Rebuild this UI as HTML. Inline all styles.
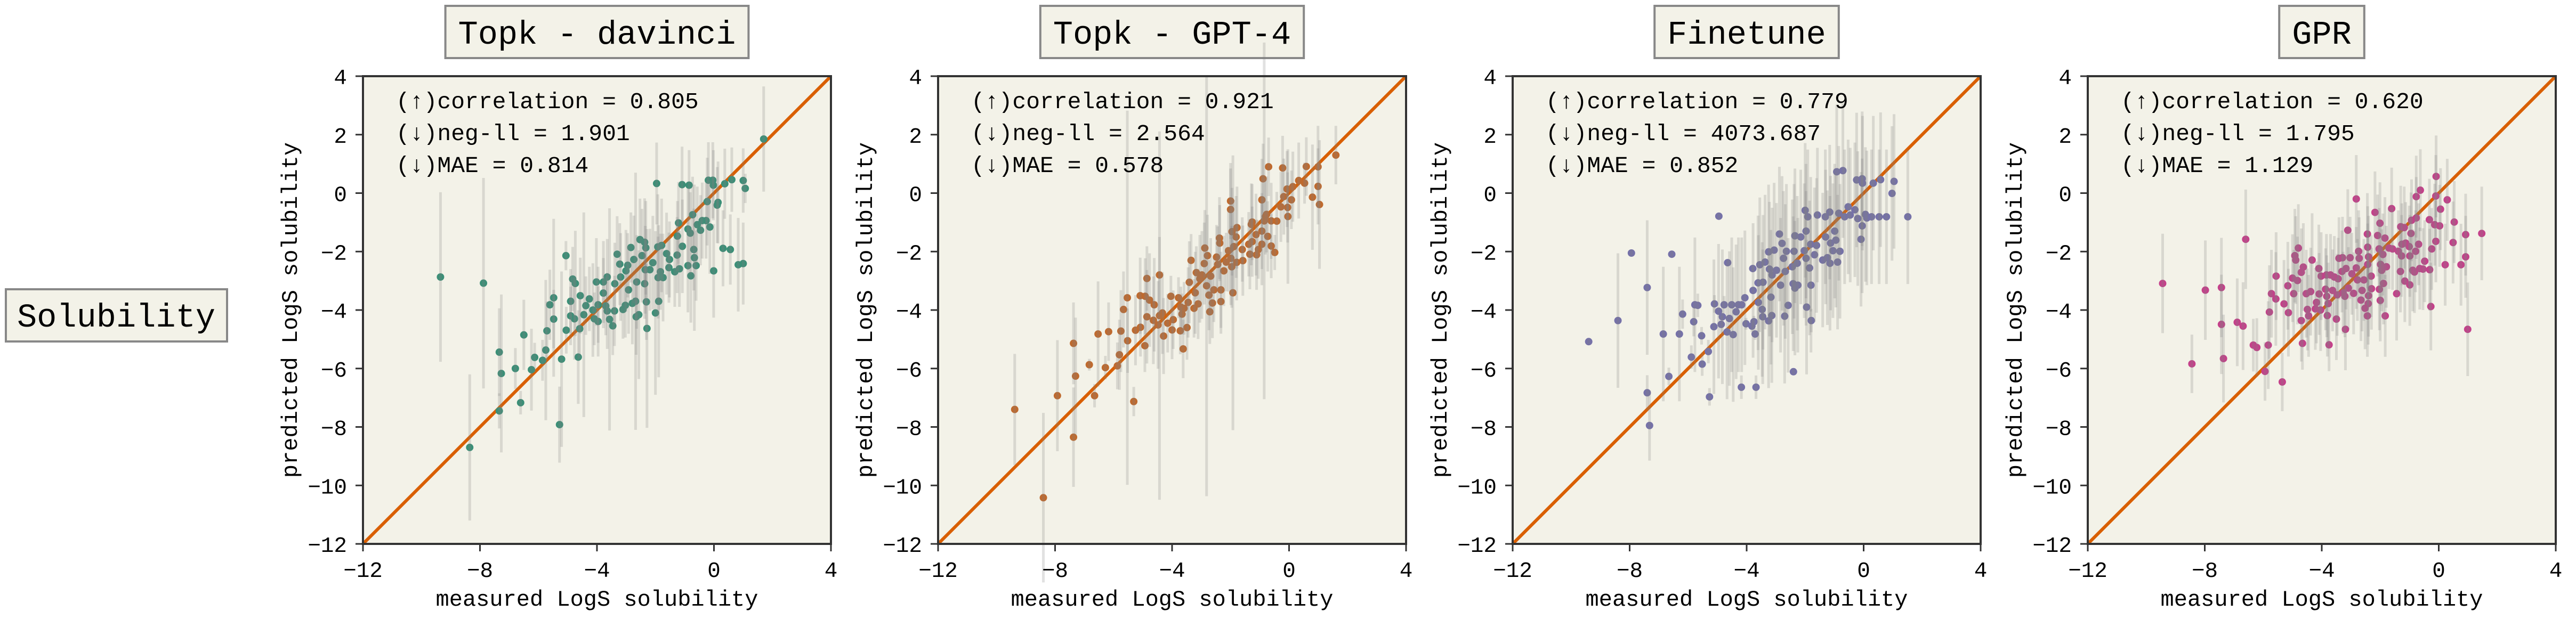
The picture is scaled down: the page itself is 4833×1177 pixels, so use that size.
<!DOCTYPE html>
<html><head><meta charset="utf-8"><style>
html,body{margin:0;padding:0;background:#fff;}
svg{display:block;}
text{font-family:"Liberation Mono","DejaVu Sans Mono",monospace;fill:#000;}
</style></head><body>
<svg id="fig" width="4833" height="1177" viewBox="0 0 4833 1177" xmlns="http://www.w3.org/2000/svg">
<g>
<rect x="11" y="543" width="415" height="98" fill="#f3f2e8" stroke="#888" stroke-width="4"/>
<text x="218" y="613" font-size="62" text-anchor="middle">Solubility</text>
</g>
</svg>
<script>
const panelTitles = ["Topk - davinci", "Topk - GPT-4", "Finetune", "GPR"];
const panelColors = ["#3b8f77", "#bf6a2e", "#7571a8", "#c4418a"];
const metricCorrelation = ["0.805", "0.921", "0.779", "0.620"];
const metricNegLL = ["1.901", "2.564", "4073.687", "1.795"];
const metricMAE = ["0.814", "0.578", "0.852", "1.129"];
const tickValues = [-12, -8, -4, 0, 4];
const yTickValues = [4, 2, 0, -2, -4, -6, -8, -10, -12];
const axisMin = -12, axisMax = 4;

// [measured, predicted, std]
const davinciPoints = [
[-9.35,-2.87,2.9],[-7.88,-3.08,3.6],[-8.35,-8.7,2.5],[-7.34,-5.44,1.5],[-7.27,-6.17,2.7],[-7.34,-7.45,0.6],[-6.79,-6.0,0.7],[-6.61,-7.17,0.4],
[-6.5,-4.85,1.2],[-6.24,-6.04,1.4],[-6.13,-5.62,0.5],[-5.86,-5.72,0.7],[-5.75,-5.37,2.4],[-5.71,-4.71,1.0],[-5.61,-3.82,1.2],[-5.48,-3.58,2.7],
[-5.48,-4.31,1.0],[-5.28,-7.92,1.3],[-5.21,-5.68,3.0],[-5.06,-2.14,0.5],[-5.05,-4.69,0.8],[-4.9,-3.7,1.1],[-4.9,-4.2,1.0],[-4.83,-2.94,1.1],
[-4.74,-3.09,1.8],[-4.64,-5.61,1.6],[-4.59,-4.64,1.0],[-4.57,-3.51,1.3],[-4.77,-4.3,1.4],[-4.45,-4.16,3.5],[-4.38,-3.85,1.0],[-4.26,-3.62,1.1],
[-4.14,-4.0,1.6],[-4.02,-3.04,1.5],[-4.09,-4.3,0.9],[-3.96,-4.39,1.2],[-3.96,-3.82,1.3],[-3.78,-3.04,1.4],[-3.65,-2.87,1.3],[-3.78,-3.42,1.2],
[-3.7,-3.86,1.0],[-3.65,-4.03,1.3],[-3.57,-4.32,3.8],[-3.46,-4.54,1.0],[-3.4,-4.03,1.2],[-3.39,-3.1,1.4],[-3.31,-2.09,1.3],[-3.22,-2.43,1.4],
[-3.19,-2.87,1.5],[-3.11,-3.98,1.0],[-3.03,-3.84,1.1],[-3.01,-2.66,1.4],[-2.95,-2.47,1.1],[-2.92,-3.31,1.5],[-2.84,-1.86,1.2],[-2.79,-3.77,1.4],
[-2.74,-2.27,1.5],[-2.68,-3.7,4.4],[-2.66,-4.23,1.3],[-2.57,-4.16,2.2],[-2.64,-3.04,1.6],[-2.53,-1.59,1.4],[-2.46,-2.14,1.6],[-2.37,-1.68,1.5],
[-2.37,-3.1,1.2],[-2.33,-1.87,1.6],[-2.35,-2.62,1.5],[-2.31,-3.72,1.3],[-2.29,-4.63,3.4],[-2.19,-2.62,1.4],[-2.09,-2.38,1.6],[-2.0,-4.1,2.8],
[-1.96,0.33,1.4],[-1.92,-1.84,1.8],[-1.89,-3.7,2.6],[-1.91,-2.89,1.4],[-1.74,-2.89,1.5],[-1.79,-1.79,1.6],[-1.83,-2.69,1.3],[-1.62,-2.07,1.4],
[-1.52,-2.27,1.3],[-1.54,-2.55,1.2],[-1.34,-2.69,1.2],[-1.26,-2.12,1.3],[-1.25,-1.47,1.2],[-1.21,-1.02,1.4],[-1.18,-2.59,1.3],[-1.08,-1.82,1.6],
[-1.09,0.29,1.3],[-0.89,-2.48,1.6],[-0.89,-1.23,1.4],[-0.85,0.27,1.2],[-0.81,-1.37,1.4],[-0.79,-2.83,1.6],[-0.73,-0.74,1.3],[-0.69,-1.93,1.4],
[-0.67,-2.21,2.5],[-0.61,-2.48,1.2],[-0.57,-1.08,1.3],[-0.46,-1.27,1.2],[-0.4,-0.94,1.3],[-0.27,-0.94,1.3],[-0.23,-0.29,1.5],[-0.14,-1.16,1.6],
[-0.19,0.44,1.3],[-0.04,0.44,1.3],[-0.02,0.27,1.2],[-0.01,-2.66,1.6],[0.11,-0.41,1.3],[0.14,-0.32,1.4],[0.31,-1.89,1.3],[0.37,0.32,1.2],
[0.56,-1.93,1.2],[0.61,0.46,1.1],[0.83,-2.45,1.6],[1.0,-2.41,1.4],[1.0,0.43,1.1],[1.07,0.16,0.5],[1.7,1.85,1.8]
];
const gpt4Points = [
[-9.38,-7.4,1.9],[-8.4,-10.42,2.9],[-7.92,-6.93,1.9],[-7.37,-5.14,1.4],[-7.3,-6.26,2.0],[-7.37,-8.35,1.7],[-6.83,-5.87,0.2],[-6.65,-6.93,0.4],
[-6.53,-4.82,1.8],[-6.28,-5.97,0.4],[-6.17,-4.74,1.0],[-5.87,-5.91,0.8],[-5.8,-5.53,1.2],[-5.75,-4.72,1.4],[-5.66,-3.98,1.3],[-5.53,-3.58,6.4],
[-5.52,-5.05,1.1],[-5.31,-7.13,0.5],[-5.25,-4.69,1.2],[-5.09,-3.51,1.3],[-5.08,-4.59,1.0],[-4.93,-5.22,0.9],[-4.92,-3.53,1.3],[-4.86,-2.92,1.1],
[-4.86,-4.23,1.6],[-4.77,-3.66,1.6],[-4.61,-3.82,1.6],[-4.64,-4.35,1.5],[-4.48,-4.51,1.5],[-4.43,-2.8,1.3],[-4.43,-4.19,6.3],[-4.29,-4.89,1.3],
[-4.33,-4.1,1.4],[-4.15,-4.45,1.0],[-4.04,-3.53,0.7],[-4.0,-4.68,1.0],[-3.96,-4.33,1.0],[-3.78,-3.58,0.7],[-3.72,-4.71,0.8],[-3.7,-3.9,0.7],
[-3.66,-4.14,0.7],[-3.62,-5.33,1.0],[-3.59,-3.94,0.9],[-3.49,-4.6,1.1],[-3.45,-3.74,1.2],[-3.41,-3.05,1.4],[-3.35,-2.3,0.9],[-3.25,-3.94,1.0],
[-3.21,-3.41,1.4],[-3.17,-2.72,0.9],[-3.11,-3.79,1.2],[-3.05,-2.93,1.5],[-2.98,-2.8,1.5],[-2.9,-2.41,1.4],[-2.88,-1.88,1.3],[-2.82,-3.17,7.2],
[-2.79,-2.14,1.4],[-2.74,-3.49,1.2],[-2.71,-4.06,1.1],[-2.68,-2.84,1.3],[-2.62,-3.76,1.2],[-2.57,-3.31,1.1],[-2.48,-2.19,1.1],[-2.44,-2.44,1.3],
[-2.38,-1.54,1.4],[-2.37,-1.71,1.3],[-2.33,-3.31,1.3],[-2.33,-3.71,1.1],[-2.23,-2.66,1.2],[-2.15,-2.36,1.0],[-2.07,-1.97,1.4],[-2.0,-0.27,1.3],
[-2.0,-0.56,1.4],[-1.99,-2.23,1.6],[-1.96,-2.52,1.4],[-1.95,-1.32,1.5],[-1.92,-3.41,4.7],[-1.89,-1.83,1.6],[-1.81,-1.5,1.4],[-1.78,-1.18,1.4],
[-1.79,-2.37,1.3],[-1.58,-2.31,1.2],[-1.6,-1.93,1.1],[-1.38,-1.75,1.1],[-1.34,-2.09,1.2],[-1.29,-1.07,1.4],[-1.26,-0.99,1.3],[-1.26,-1.66,1.2],
[-1.13,-1.42,1.4],[-1.11,-2.11,1.2],[-1.05,-1.93,1.0],[-0.93,-0.23,1.4],[-0.93,-1.75,1.4],[-0.93,-1.3,1.3],[-0.89,0.49,1.2],[-0.85,-0.95,6.1],
[-0.81,-0.8,1.3],[-0.77,-0.73,1.3],[-0.7,0.9,1.0],[-0.73,-1.48,1.2],[-0.61,-1.81,1.1],[-0.61,-0.95,1.3],[-0.49,-2.03,0.6],[-0.42,-0.96,1.0],
[-0.28,-0.47,1.2],[-0.22,0.86,1.1],[-0.18,-0.12,1.3],[-0.07,0.14,1.3],[-0.05,-0.49,1.2],[-0.04,-0.8,2.3],[0.08,-0.23,1.0],[0.13,0.22,1.2],
[0.33,0.43,1.3],[0.53,0.34,0.7],[0.59,0.91,1.0],[0.8,-0.14,1.8],[0.99,0.9,1.4],[0.99,0.23,1.3],[1.04,-0.39,2.2],[1.6,1.3,1.0]
];
const finetunePoints = [
[-9.4,-5.08,0.1],[-8.4,-4.36,2.3],[-7.94,-2.05,0.1],[-7.4,-3.23,2.3],[-7.4,-6.83,0.6],[-7.32,-7.95,1.2],[-6.85,-4.82,2.3],[-6.66,-6.27,0.3],
[-6.56,-2.09,0.1],[-6.3,-4.82,2.3],[-6.19,-4.14,0.5],[-5.89,-5.61,0.4],[-5.81,-4.4,0.5],[-5.77,-3.82,2.3],[-5.67,-3.84,0.4],[-5.54,-4.88,0.3],
[-5.52,-5.85,0.4],[-5.31,-5.42,0.4],[-5.27,-6.97,0.3],[-5.12,-4.57,2.3],[-5.1,-3.79,0.3],[-4.96,-4.04,2.3],[-4.95,-0.79,0.1],[-4.87,-4.49,0.3],
[-4.83,-4.23,2.3],[-4.77,-3.82,0.3],[-4.67,-4.75,2.3],[-4.65,-2.38,0.1],[-4.59,-4.29,2.3],[-4.51,-3.82,2.3],[-4.46,-4.84,2.3],[-4.36,-4.06,2.3],
[-4.28,-3.82,2.3],[-4.18,-6.64,0.4],[-4.17,-3.82,2.3],[-4.06,-3.58,2.3],[-4.02,-4.47,0.2],[-3.82,-4.55,0.2],[-3.79,-2.58,0.1],[-3.75,-4.4,0.2],
[-3.71,-4.82,0.2],[-3.68,-6.64,0.4],[-3.78,-3.33,2.3],[-3.61,-3.07,2.3],[-3.6,-3.74,2.3],[-3.55,-2.45,2.3],[-3.47,-3.98,2.3],[-3.45,-4.23,2.3],
[-3.44,-3.05,2.3],[-3.37,-2.36,2.3],[-3.25,-2.01,2.3],[-3.25,-4.37,2.3],[-3.22,-2.6,2.3],[-3.17,-3.56,2.3],[-3.14,-4.19,2.3],[-3.13,-2.8,2.3],
[-3.06,-1.95,2.3],[-2.98,-2.64,2.3],[-2.88,-1.4,2.3],[-2.84,-3.15,2.3],[-2.79,-1.72,2.3],[-2.74,-2.23,2.3],[-2.7,-4.21,2.3],[-2.68,-2.68,2.3],
[-2.64,-1.99,2.3],[-2.58,-3.84,2.3],[-2.44,-2.52,2.3],[-2.41,-3.1,2.3],[-2.4,-6.11,0.1],[-2.38,-1.99,2.3],[-2.35,-1.46,2.3],[-2.35,-3.25,2.3],
[-2.27,-2.4,2.3],[-2.25,-3.15,2.3],[-2.15,-1.5,2.3],[-2.03,-1.97,2.3],[-2.0,-0.59,2.3],[-1.97,-1.3,2.3],[-1.97,-2.23,2.3],[-1.95,-3.9,2.3],
[-1.91,-0.81,2.3],[-1.85,-2.56,2.3],[-1.81,-1.75,2.3],[-1.8,-3.15,2.3],[-1.79,-4.36,0.4],[-1.68,-2.11,2.3],[-1.61,-1.79,2.3],[-1.58,-0.75,2.3],
[-1.4,-2.29,2.3],[-1.31,-0.81,2.3],[-1.3,-1.5,2.3],[-1.24,-2.21,2.3],[-1.16,-0.65,2.3],[-1.15,-2.4,2.3],[-1.13,-1.71,2.3],[-1.05,-1.97,2.3],
[-0.99,-1.3,2.3],[-0.95,-1.61,2.3],[-0.92,0.73,2.3],[-0.89,-2.36,2.3],[-0.85,-0.69,2.3],[-0.81,-1.99,2.3],[-0.71,0.77,2.3],[-0.65,-0.81,2.3],
[-0.53,-0.47,2.3],[-0.46,-0.75,2.3],[-0.3,-0.57,2.3],[-0.24,0.45,2.3],[-0.2,-0.87,2.3],[-0.09,-1.58,2.3],[-0.05,0.49,2.3],[-0.05,-1.12,2.3],
[-0.04,0.34,2.3],[0.06,-0.73,2.3],[0.11,-0.85,2.3],[0.27,-0.81,2.3],[0.33,0.34,2.3],[0.53,-0.81,2.3],[0.58,0.46,2.3],[0.78,-0.81,2.3],
[0.97,-0.01,2.3],[1.04,0.4,2.3],[1.51,-0.81,2.3]
];
const gprPoints = [
[-9.44,-3.09,1.7],[-8.44,-5.84,1.0],[-7.98,-3.32,1.7],[-7.43,-3.23,1.7],[-7.43,-4.49,1.7],[-7.36,-5.66,1.5],[-6.89,-4.42,1.5],[-6.69,-4.55,1.5],
[-6.6,-1.58,1.7],[-6.34,-5.2,0.9],[-6.22,-5.28,1.0],[-5.94,-6.1,1.0],[-5.83,-5.2,1.5],[-5.79,-4.07,1.6],[-5.72,-3.44,1.5],[-5.57,-3.62,1.6],
[-5.56,-2.84,1.5],[-5.35,-6.46,1.0],[-5.29,-3.79,1.5],[-5.16,-3.17,1.5],[-5.14,-4.09,1.5],[-5.0,-2.91,1.5],[-4.96,-3.44,1.5],[-4.92,-2.14,1.6],
[-4.89,-2.29,1.5],[-4.83,-2.99,1.5],[-4.8,-1.88,1.5],[-4.7,-4.36,1.4],[-4.7,-2.71,1.5],[-4.66,-5.14,0.9],[-4.63,-2.53,1.5],[-4.53,-3.44,1.5],
[-4.49,-3.98,1.4],[-4.45,-4.2,1.4],[-4.38,-3.37,1.5],[-4.33,-2.29,1.6],[-4.22,-3.96,1.4],[-4.18,-3.74,1.4],[-4.1,-2.58,1.5],[-4.09,-3.45,1.4],
[-4.04,-4.0,1.4],[-4.02,-2.84,1.5],[-3.87,-3.29,1.4],[-3.84,-2.8,1.4],[-3.83,-3.53,1.4],[-3.81,-4.19,1.4],[-3.78,-3.78,1.4],[-3.75,-5.19,0.9],
[-3.7,-2.8,1.4],[-3.63,-3.33,1.4],[-3.57,-2.87,1.4],[-3.5,-4.31,1.4],[-3.47,-3.48,1.4],[-3.44,-2.93,1.4],[-3.41,-2.23,1.4],[-3.31,-2.68,1.4],
[-3.29,-2.21,1.4],[-3.27,-3.41,1.4],[-3.21,-3.53,1.4],[-3.19,-4.66,1.4],[-3.17,-2.58,1.4],[-3.11,-1.27,1.4],[-3.09,-3.25,1.4],[-3.03,-2.21,1.4],
[-2.97,-2.76,1.4],[-2.91,-3.43,1.4],[-2.82,-0.2,1.5],[-2.82,-2.56,1.4],[-2.78,-2.97,1.4],[-2.74,-1.99,1.4],[-2.72,-2.23,1.4],[-2.66,-3.66,1.4],
[-2.62,-3.33,1.4],[-2.56,-2.97,1.4],[-2.52,-3.94,1.4],[-2.44,-1.4,1.4],[-2.43,-1.85,1.4],[-2.43,-2.44,1.4],[-2.44,-4.2,1.4],[-2.41,-3.78,1.4],
[-2.4,-3.51,1.4],[-2.4,-2.18,1.4],[-2.31,-2.84,1.4],[-2.3,-3.27,1.4],[-2.18,-0.66,1.4],[-2.09,-1.45,1.4],[-2.04,-1.91,1.4],[-2.03,-3.29,1.4],
[-2.01,-1.03,1.4],[-2.0,-3.67,1.4],[-1.99,-2.44,1.4],[-1.95,-2.64,1.4],[-1.91,-2.1,1.4],[-1.89,-3.09,1.4],[-1.84,-1.54,1.4],[-1.83,-4.2,1.4],
[-1.79,-2.52,1.4],[-1.7,-1.88,1.4],[-1.61,-0.53,1.4],[-1.58,-1.91,1.4],[-1.44,-3.44,1.6],[-1.38,-1.99,1.4],[-1.31,-2.68,1.4],[-1.3,-1.15,1.4],
[-1.27,-2.15,1.4],[-1.26,-1.75,1.4],[-1.18,-1.18,1.4],[-1.16,-3.01,1.4],[-1.13,-1.71,1.4],[-1.01,-1.83,1.4],[-0.99,-2.15,1.4],[-0.99,-3.14,1.4],
[-0.95,-1.38,1.4],[-0.93,-0.93,1.4],[-0.89,-2.64,1.4],[-0.83,-2.7,1.4],[-0.79,-1.99,1.4],[-0.77,-0.12,1.4],[-0.77,-0.85,1.4],[-0.69,-1.75,1.4],
[-0.65,-2.58,1.4],[-0.63,0.1,1.4],[-0.54,-2.6,1.4],[-0.48,-2.33,1.4],[-0.32,-0.91,1.4],[-0.31,-2.62,1.4],[-0.27,-3.88,1.5],[-0.24,-1.91,1.4],
[-0.14,-1.08,1.4],[-0.1,-1.65,1.4],[-0.1,-0.1,1.4],[-0.09,0.57,1.4],[0.03,-1.12,1.4],[0.06,-0.55,1.4],[0.22,-2.45,1.4],[0.29,-0.23,1.4],
[0.49,-1.69,1.4],[0.53,-0.99,1.4],[0.76,-2.45,1.4],[0.92,-1.42,1.4],[0.92,-2.18,1.4],[0.99,-4.66,1.6],[1.47,-1.38,1.6]
];
const allPoints = [davinciPoints, gpt4Points, finetunePoints, gprPoints];
const panelKeys = ["davinci", "gpt4", "finetune", "gpr"];

const NS = "http://www.w3.org/2000/svg";
const svg = document.getElementById("fig");
const plotLefts = [681, 1760, 2838, 3917];
const plotTop = 143, plotSize = 878;

function mk(tag, attrs, parent) {
  const el = document.createElementNS(NS, tag);
  for (const k in attrs) el.setAttribute(k, attrs[k]);
  parent.appendChild(el);
  return el;
}

for (let p = 0; p < 4; p++) {
  const L = plotLefts[p];
  const sx = v => L + (v - axisMin) / (axisMax - axisMin) * plotSize;
  const sy = v => plotTop + (axisMax - v) / (axisMax - axisMin) * plotSize;
  const key = panelKeys[p];
  const g = mk("g", {}, svg);
  
  

  const title = panelTitles[p];
  const tw = title.length * 37.2 + 48;
  const cx = L + plotSize / 2;
  const tb = mk("rect", {x: cx - tw / 2, y: 11, width: tw, height: 98, fill: "#f3f2e8", stroke: "#888", "stroke-width": 4}, g);
  
  
  const tt = mk("text", {x: cx, y: 82, "font-size": 62, "text-anchor": "middle"}, g);
  tt.textContent = title;
  
  

  const bg = mk("rect", {x: L, y: plotTop, width: plotSize, height: plotSize, fill: "#f3f2e8"}, g);
  
  

  const diag = mk("line", {x1: sx(axisMin), y1: sy(axisMin), x2: sx(axisMax), y2: sy(axisMax), stroke: "#d95f02", "stroke-width": 6}, g);
  
  

  const pts = allPoints[p];
  const pg = mk("g", {}, g);
  
  
  pts.forEach((d, i) => {
    const c = mk("circle", {cx: sx(d[0]), cy: sy(d[1]), r: 7, fill: panelColors[p]}, pg);
    
    
  });
  const eg = mk("g", {}, g);
  
  
  pts.forEach((d, i) => {
    const e = mk("line", {x1: sx(d[0]), x2: sx(d[0]), y1: sy(d[1] + d[2]), y2: sy(d[1] - d[2]), stroke: "rgba(128,128,128,0.24)", "stroke-width": 5}, eg);
    
    
  });

  const sp = mk("rect", {x: L, y: plotTop, width: plotSize, height: plotSize, fill: "none", stroke: "#333", "stroke-width": 4}, g);
  
  

  tickValues.forEach(v => {
    const x = sx(v);
    const t = mk("line", {x1: x, x2: x, y1: plotTop + plotSize, y2: plotTop + plotSize + 14, stroke: "#333", "stroke-width": 3}, g);
    
    
    const lb = mk("text", {x: x, y: 1083, "font-size": 41, "text-anchor": "middle"}, g);
    lb.textContent = v < 0 ? "\u2212" + Math.abs(v) : String(v);
    
    
  });
  yTickValues.forEach(v => {
    const y = sy(v);
    const t = mk("line", {x1: L - 14, x2: L, y1: y, y2: y, stroke: "#333", "stroke-width": 3}, g);
    
    
    const lb = mk("text", {x: L - 30, y: y + 15, "font-size": 41, "text-anchor": "end"}, g);
    lb.textContent = v < 0 ? "\u2212" + Math.abs(v) : String(v);
    
    
  });

  const xl = mk("text", {x: cx, y: 1137, "font-size": 42, "text-anchor": "middle"}, g);
  xl.textContent = "measured LogS solubility";
  
  
  const yc = plotTop + plotSize / 2;
  const yl = mk("text", {x: L - 124, y: yc, "font-size": 42, "text-anchor": "middle", transform: "rotate(-90 " + (L - 124) + " " + yc + ")"}, g);
  yl.textContent = "predicted LogS solubility";
  
  

  const lines = ["(\u2191)correlation = " + metricCorrelation[p], "(\u2193)neg-ll = " + metricNegLL[p], "(\u2193)MAE = " + metricMAE[p]];
  const mnames = ["metric-correlation-", "metric-neg-ll-", "metric-mae-"];
  lines.forEach((s, i) => {
    const m = mk("text", {x: L + 62, y: plotTop + 60 + i * 60, "font-size": 43}, g);
    m.textContent = s;
    
    
  });
}
</script>
</body></html>
